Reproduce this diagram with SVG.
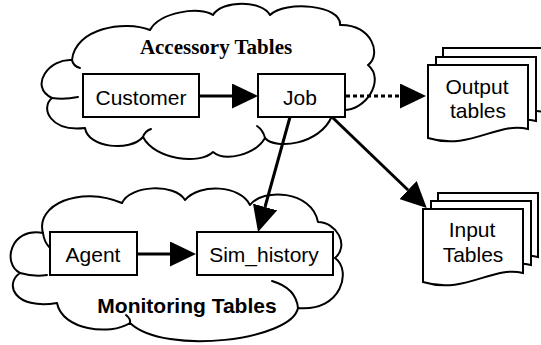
<svg xmlns="http://www.w3.org/2000/svg" width="541" height="345" viewBox="0 0 541 345">
  <style>
    .cloud { fill: #fff; stroke: #000; stroke-width: 2; stroke-linejoin: round; }
    .curl { fill: none; stroke: #000; stroke-width: 2; stroke-linecap: round; }
    .box { fill: #fff; stroke: #000; stroke-width: 2; }
    .doc { fill: #fff; stroke: #000; stroke-width: 2; stroke-linejoin: miter; }
    .lbl { font-family: "Liberation Sans", Arial, Helvetica, sans-serif; font-size: 21px; fill: #000; text-anchor: middle; }
    .title-serif { font-family: "Liberation Serif", "Times New Roman", serif; font-size: 21px; font-weight: bold; fill: #000; text-anchor: middle; }
    .title-sans { font-family: "Liberation Sans", Arial, Helvetica, sans-serif; font-size: 21px; font-weight: bold; fill: #000; text-anchor: middle; }
    .edge { fill: none; stroke: #000; stroke-width: 3; }
    .dotted { stroke-dasharray: 4 3; }
  </style>
  <defs>
    <marker id="head" markerUnits="userSpaceOnUse" viewBox="0 0 26 25" refX="0" refY="12.5" markerWidth="26" markerHeight="25" orient="auto">
      <path d="M0,0 L26,12.5 L0,25 Z" fill="#000"/>
    </marker>
    <!-- document page with a wavy lower edge -->
    <path id="page" d="M0,0 H100 V64 C70,56 42,86 0,73 Z"/>
  </defs>

  <!-- cloud: Accessory Tables -->
  <g id="accessory-tables">
    <path class="cloud" d="M72,60
      C50,58 28,86 52,98
      C40,108 50,132 85,128
      C88,148 130,152 143,137
      C155,160 200,165 213,152
      C225,162 255,155 265,138
      C275,150 320,145 332,116
      L342,110
      C365,112 386,80 368,65
      C382,55 372,24 340,25
      C342,5 285,0 270,15
      C262,0 222,0 213,15
      C200,6 160,12 150,30
      C125,20 75,28 72,60 Z"/>
    <path class="curl" d="M72,60 Q73,66 80,68"/>
    <path class="curl" d="M52,98 Q64,100 78,97"/>
    <path class="curl" d="M143,137 Q145,131 151,129"/>
    <path class="curl" d="M265,138 Q263,130 257,126"/>
    <text class="title-serif" x="216" y="54">Accessory Tables</text>
  </g>

  <!-- cloud: Monitoring Tables -->
  <g id="monitoring-tables">
    <path class="cloud" d="M43,233
      C35,205 80,185 122,203
      C130,185 175,183 185,200
      C200,183 240,185 250,205
      C262,188 312,190 318,222
      C336,222 350,245 335,258
      C352,270 342,312 298,308
      C292,340 165,356 130,323
      C110,336 62,330 57,303
      C14,310 4,284 20,273
      C2,264 10,227 43,233 Z"/>
    <path class="curl" d="M43,233 Q44,242 50,248"/>
    <path class="curl" d="M20,273 Q34,277 47,275"/>
    <path class="curl" d="M272,281 Q296,288 298,308"/>
    <path class="curl" d="M126,315 Q131,319 130,323"/>
    <text class="title-sans" x="187" y="313">Monitoring Tables</text>
  </g>

  <!-- stacked pages: Output tables -->
  <g id="output-tables">
    <use href="#page" class="doc" transform="translate(443,48)"/>
    <use href="#page" class="doc" transform="translate(436,57)"/>
    <use href="#page" class="doc" transform="translate(428,65)"/>
    <text class="lbl" x="477" y="94">Output</text>
    <text class="lbl" x="478" y="118">tables</text>
  </g>

  <!-- stacked pages: Input Tables -->
  <g id="input-tables">
    <use href="#page" class="doc" transform="translate(438,193)"/>
    <use href="#page" class="doc" transform="translate(431,201)"/>
    <use href="#page" class="doc" transform="translate(423,209)"/>
    <text class="lbl" x="472" y="237">Input</text>
    <text class="lbl" x="473" y="262">Tables</text>
  </g>

  <!-- table boxes -->
  <g id="customer">
    <rect class="box" x="83" y="74" width="116" height="43"/>
    <text class="lbl" x="141" y="105">Customer</text>
  </g>
  <g id="job">
    <rect class="box" x="258" y="74" width="87" height="43"/>
    <text class="lbl" x="300" y="105">Job</text>
  </g>
  <g id="agent">
    <rect class="box" x="50" y="232" width="87" height="43"/>
    <text class="lbl" x="93" y="262">Agent</text>
  </g>
  <g id="sim-history">
    <rect class="box" x="197" y="232" width="136" height="43"/>
    <text class="lbl" x="264" y="262">Sim_history</text>
  </g>

  <!-- connectors -->
  <g id="connectors">
    <line class="edge" x1="199" y1="96" x2="232" y2="96" marker-end="url(#head)"/>
    <line class="edge dotted" x1="346" y1="96" x2="400" y2="96" marker-end="url(#head)"/>
    <line class="edge" x1="290" y1="117" x2="265" y2="207" marker-end="url(#head)"/>
    <line class="edge" x1="332" y1="117" x2="408" y2="190" marker-end="url(#head)"/>
    <line class="edge" x1="137" y1="254" x2="170" y2="254" marker-end="url(#head)"/>
  </g>
</svg>
